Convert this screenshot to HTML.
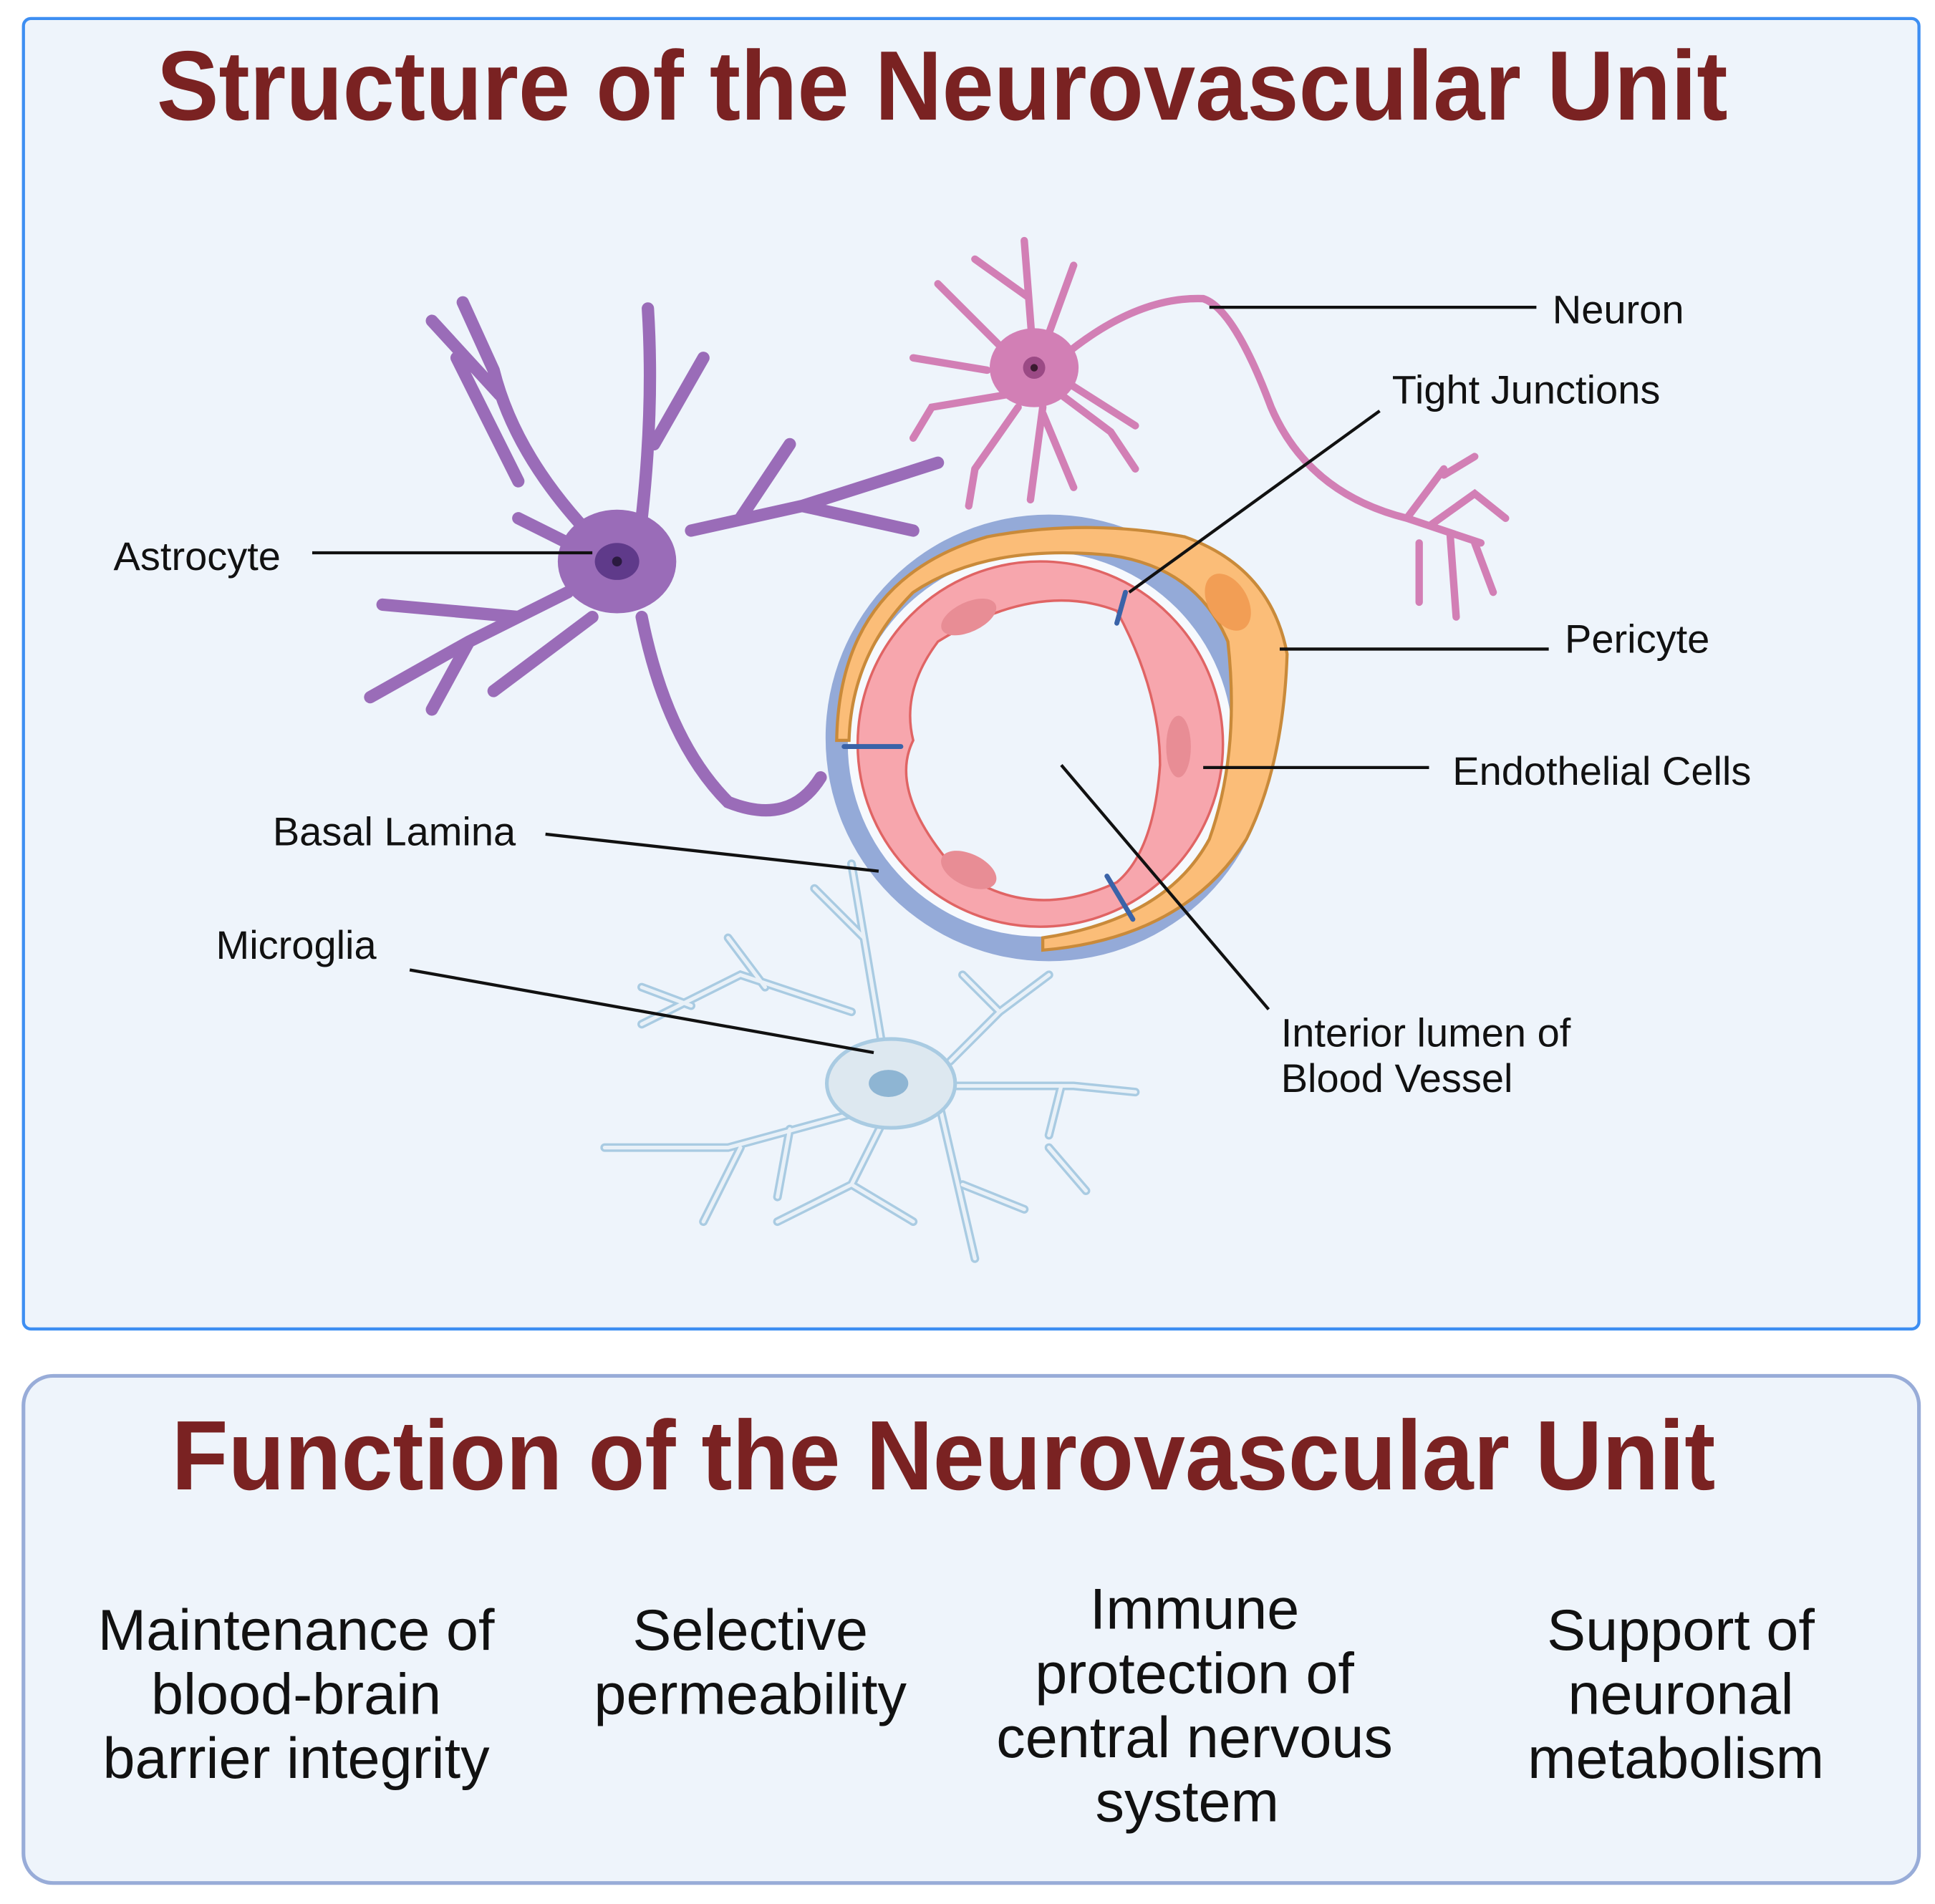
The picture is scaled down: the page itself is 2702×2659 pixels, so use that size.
<!DOCTYPE html>
<html><head><meta charset="utf-8"><style>
html,body{margin:0;padding:0;background:#fff;}
svg{display:block;}
text{font-family:"Liberation Sans",sans-serif;}
</style></head><body>
<svg width="2702" height="2659" viewBox="0 0 1568 1543" preserveAspectRatio="none" xmlns="http://www.w3.org/2000/svg">
<rect x="0" y="0" width="1568" height="1543" fill="#fff"/>
<rect x="19" y="15" width="1536" height="1062" rx="6" fill="#eef4fb" stroke="#3d8ef2" stroke-width="2.5"/>
<rect x="19" y="1115" width="1536" height="411" rx="24" fill="#eef4fb" stroke="#98acd8" stroke-width="3"/>
<text x="127" y="97" font-size="80" font-weight="bold" fill="#7a2222" textLength="1273" lengthAdjust="spacingAndGlyphs">Structure of the Neurovascular Unit</text>
<text x="139" y="1207" font-size="80" font-weight="bold" fill="#7a2222" textLength="1251" lengthAdjust="spacingAndGlyphs">Function of the Neurovascular Unit</text>

<!-- Microglia -->
<g fill="none" stroke="#a9cbe2" stroke-width="7" stroke-linecap="round">
<path d="M720 878 L690 700 M700 760 L660 720 M690 820 L600 790 L520 830 M620 800 L590 760 M560 815 L520 800 M700 900 L590 930 L490 930 M600 930 L570 990 M640 915 L630 970 M720 900 L690 960 L630 990 M690 960 L740 990 M760 890 L790 1020 M780 960 L830 980 M770 880 L870 880 L920 885 M860 880 L850 920 M770 860 L810 820 L850 790 M810 820 L780 790 M850 930 L880 965"/>
</g>
<g fill="none" stroke="#e9f1f8" stroke-width="3" stroke-linecap="round">
<path d="M720 878 L690 700 M700 760 L660 720 M690 820 L600 790 L520 830 M620 800 L590 760 M560 815 L520 800 M700 900 L590 930 L490 930 M600 930 L570 990 M640 915 L630 970 M720 900 L690 960 L630 990 M690 960 L740 990 M760 890 L790 1020 M780 960 L830 980 M770 880 L870 880 L920 885 M860 880 L850 920 M770 860 L810 820 L850 790 M810 820 L780 790 M850 930 L880 965"/>
</g>
<ellipse cx="722" cy="878" rx="52" ry="36" fill="#dde8f0" stroke="#a9cbe2" stroke-width="3"/>
<ellipse cx="720" cy="878" rx="16" ry="11" fill="#8eb5d3"/>

<!-- Astrocyte -->
<g fill="none" stroke="#9a6cb8" stroke-width="10" stroke-linecap="round">
<path d="M500 455 Q420 380 400 300 L375 245 M405 320 L350 260 M420 390 L370 290 M520 420 Q530 330 525 250 M530 360 L570 290 M460 480 L380 520 L300 565 M420 500 L310 490 M380 520 L350 575 M480 500 L400 560 M520 500 Q540 600 590 650 Q640 670 665 630 M560 430 L650 410 L760 375 M650 410 L740 430 M600 420 L640 360 M460 440 L420 420"/>
</g>
<ellipse cx="500" cy="455" rx="48" ry="42" fill="#9a6cb8"/>
<ellipse cx="500" cy="455" rx="18" ry="15" fill="#5f3a8a"/>
<circle cx="500" cy="455" r="4" fill="#2a1a40"/>

<!-- Vessel -->
<circle cx="850" cy="598" r="181" fill="#94aad8"/>
<circle cx="843" cy="603" r="156" fill="#f6f9fd"/>
<circle cx="843" cy="603" r="148" fill="#f7a6ad" stroke="#e06464" stroke-width="2"/>
<path d="M760 520 Q840 470 905 495 Q940 560 940 620 Q935 690 905 715 Q830 750 770 700 Q720 640 740 600 Q730 560 760 520 Z" fill="#eef4fb" stroke="#e06464" stroke-width="2"/>
<ellipse cx="785" cy="500" rx="24" ry="12" fill="#e88d95" transform="rotate(-25 785 500)"/>
<ellipse cx="955" cy="605" rx="10" ry="25" fill="#e88d95"/>
<ellipse cx="785" cy="705" rx="24" ry="13" fill="#e88d95" transform="rotate(25 785 705)"/>
<path d="M678 600 Q680 470 800 435 Q880 420 960 435 Q1030 460 1043 530 Q1040 620 1010 680 Q960 760 845 770 L845 760 Q945 745 980 680 Q1005 610 995 520 Q970 460 900 450 Q800 440 740 480 Q690 530 688 600 Z" fill="#fbbd78" stroke="#c98a3a" stroke-width="2.5"/>
<ellipse cx="995" cy="488" rx="16" ry="25" fill="#f29e55" transform="rotate(-30 995 488)"/>
<g stroke="#3a63a8" stroke-width="4" stroke-linecap="round">
<path d="M684 605 L730 605 M905 505 L912 480 M897 710 L918 745"/>
</g>

<!-- Neuron -->
<g fill="none" stroke="#d27fb5" stroke-width="6" stroke-linecap="round">
<path d="M860 290 Q920 240 975 242 Q1000 250 1030 330 Q1060 400 1140 420 L1200 440 M1140 420 L1170 380 M1160 425 L1195 400 L1220 420 M1175 432 L1180 500 M1195 440 L1210 480 M1150 440 L1150 488 M1170 385 L1195 370"/>
<path d="M838 298 L830 195 M832 240 L790 210 M810 280 L760 230 M800 300 L740 290 M815 320 L755 330 L740 355 M825 330 L790 380 M845 330 L835 405 M860 320 L900 350 L920 380 M865 310 L920 345 M850 270 L870 215 M790 380 L785 410 M845 335 L870 395"/>
</g>
<ellipse cx="838" cy="298" rx="36" ry="32" fill="#d27fb5"/>
<circle cx="838" cy="298" r="9" fill="#9b4a85"/>
<circle cx="838" cy="298" r="3" fill="#3a1a30"/>

<!-- Leader lines -->
<g stroke="#111" stroke-width="2.5">
<line x1="980" y1="249" x2="1245" y2="249"/>
<line x1="1118" y1="333" x2="915" y2="480"/>
<line x1="253" y1="448" x2="480" y2="448"/>
<line x1="1037" y1="526" x2="1255" y2="526"/>
<line x1="975" y1="622" x2="1158" y2="622"/>
<line x1="442" y1="676" x2="712" y2="706"/>
<line x1="332" y1="786" x2="708" y2="853"/>
<line x1="860" y1="620" x2="1028" y2="818"/>
</g>
<g font-size="32.5" fill="#111">
<text x="1258" y="262">Neuron</text>
<text x="1128" y="327">Tight Junctions</text>
<text x="92" y="462">Astrocyte</text>
<text x="1268" y="529">Pericyte</text>
<text x="1177" y="636">Endothelial Cells</text>
<text x="221" y="685">Basal Lamina</text>
<text x="175" y="777">Microglia</text>
<text x="1038" y="848">Interior lumen of</text>
<text x="1038" y="885">Blood Vessel</text>
</g>
<g font-size="47" fill="#111" text-anchor="middle">
<text x="240" y="1337">Maintenance of</text>
<text x="240" y="1389">blood-brain</text>
<text x="240" y="1441">barrier integrity</text>
<text x="608" y="1337">Selective</text>
<text x="608" y="1389">permeability</text>
<text x="968" y="1320">Immune</text>
<text x="968" y="1372">protection of</text>
<text x="968" y="1424">central nervous</text>
<text x="962" y="1476">system</text>
<text x="1362" y="1337">Support of</text>
<text x="1362" y="1389">neuronal</text>
<text x="1358" y="1441">metabolism</text>
</g>
</svg>
</body></html>
